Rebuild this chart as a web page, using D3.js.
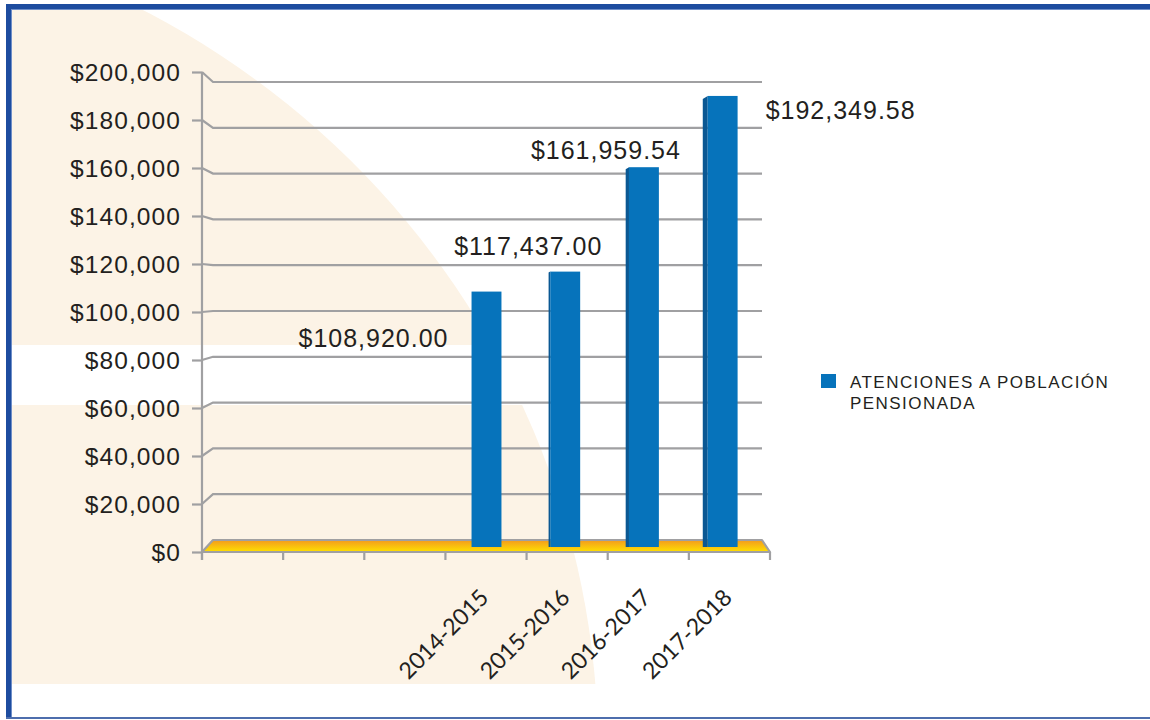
<!DOCTYPE html>
<html>
<head>
<meta charset="utf-8">
<script src="https://cdn.jsdelivr.net/npm/d3@7"></script>
<style>
  html, body { margin: 0; padding: 0; background: #ffffff; }
  svg { display: block; }
</style>
</head>
<body>
<svg id="chart" width="1150" height="720"></svg>
<script>
// ---------------- data ----------------
const categories = ["", "", "", "2014-2015", "2015-2016", "2016-2017", "2017-2018"];
const values = [null, null, null, 108920.00, 117437.00, 161959.54, 192349.58];
const yTickValues = [0, 20000, 40000, 60000, 80000, 100000, 120000, 140000, 160000, 180000, 200000];
const seriesName = ["ATENCIONES A POBLACIÓN", "PENSIONADA"];

// ---------------- setup ----------------
const svg = d3.select("#chart");
const W = 1150, H = 720;
const ink = "#231f20";
const gridGrey = "#a0a0a2";
const barBlue = "#0673bb";
const barSide = "#0a5893";
const cream = "#fcf3e6";
const frameBlue = "#1d4c9f";

svg.append("rect").attr("width", W).attr("height", H).attr("fill", "#ffffff");

// cream decorative background shape
const defs = svg.append("defs");
const clip = defs.append("clipPath").attr("id", "creamClip");
clip.append("rect").attr("x", 11).attr("y", 9).attr("width", W).attr("height", 336);
clip.append("rect").attr("x", 11).attr("y", 405).attr("width", W).attr("height", 279);
svg.append("ellipse")
  .attr("cx", -250).attr("cy", 750).attr("rx", 848).attr("ry", 835)
  .attr("fill", cream)
  .attr("clip-path", "url(#creamClip)");

// floor gradient
const grad = defs.append("linearGradient").attr("id", "floorGrad")
  .attr("x1", 0).attr("y1", 0).attr("x2", 0).attr("y2", 1);
grad.append("stop").attr("offset", "0%").attr("stop-color", "#f39a1f");
grad.append("stop").attr("offset", "100%").attr("stop-color", "#ffe100");

// ---------------- scales ----------------
const idx = d3.range(categories.length);
const yFront = d3.scaleLinear().domain([0, 200000]).range([552, 72]);
const yBack = d3.scaleLinear().domain([0, 200000]).range([540, 82]);
const yBar = d3.scaleLinear().domain([0, 200000]).range([547, 78]);
const xFront = d3.scaleBand().domain(idx).range([202, 770]).padding(0);
const xBack = d3.scaleBand().domain(idx).range([211, 762]).paddingInner(0.62).paddingOuter(0.31);
const sideW = d3.scaleLinear().domain([470, 712]).range([0, 5]).clamp(true);

// ---------------- gridlines (perspective back wall) ----------------
const line = d3.line();
const gridG = svg.append("g");
yTickValues.forEach(v => {
  if (v === 0) return;
  gridG.append("path")
    .attr("d", line([[202, yFront(v)], [213, yBack(v)], [762, yBack(v)]]))
    .attr("fill", "none").attr("stroke", gridGrey).attr("stroke-width", 2.2);
});

// y axis
const yAxis = d3.axisLeft(yFront).tickValues(yTickValues).tickSize(10).tickFormat(d3.format("$,.0f"));
const yAxisG = svg.append("g").attr("transform", "translate(202,0)").call(yAxis);
yAxisG.select(".domain").attr("d", "M0,72V560").attr("stroke", gridGrey).attr("stroke-width", 2.2);
yAxisG.selectAll(".tick line").attr("stroke", gridGrey).attr("stroke-width", 2.2);
yAxisG.selectAll(".tick text")
  .attr("x", -21).attr("dy", "0.36em")
  .attr("fill", ink)
  .style("font-family", "'Liberation Sans', Arial, sans-serif")
  .style("font-size", "24.5px")
  .style("letter-spacing", "1.1px");

// floor (value 0 plane)
const floorPts = [[202, yFront(0)], [213, yBack(0)], [762, yBack(0)], [xFront.range()[1], yFront(0)]];
svg.append("path")
  .attr("d", line(floorPts) + "Z")
  .attr("fill", "url(#floorGrad)")
  .attr("stroke", gridGrey).attr("stroke-width", 2.2).attr("stroke-linejoin", "round");

// ---------------- bars ----------------
const barData = idx.filter(i => values[i] != null).map(i => ({ i, v: values[i] }));
const barG = svg.append("g");
barData.forEach(d => {
  const x0 = xBack(d.i);
  const bw = xBack.bandwidth();
  const top = yBar(d.v);
  const bottom = yBar(0);
  const s = sideW(x0);
  if (s > 0.5) {
    barG.append("path")
      .attr("d", line([[x0 - s, top + s * 0.6], [x0, top], [x0, bottom], [x0 - s, bottom]]) + "Z")
      .attr("fill", barSide);
  }
  barG.append("rect")
    .attr("x", x0).attr("y", top)
    .attr("width", bw).attr("height", bottom - top)
    .attr("fill", barBlue);
});

// x axis (front edge) with ticks at category boundaries
const xAxisG = svg.append("g");
xAxisG.append("path")
  .attr("d", line([[202, yFront(0)], [xFront.range()[1], yFront(0)]]))
  .attr("stroke", gridGrey).attr("stroke-width", 2.2);
idx.concat([categories.length]).forEach(k => {
  const x = k < categories.length ? xFront(k) : xFront.range()[1];
  xAxisG.append("line")
    .attr("x1", x).attr("x2", x).attr("y1", yFront(0)).attr("y2", yFront(0) + 8)
    .attr("stroke", gridGrey).attr("stroke-width", 2.2);
});

// category labels (rotated)
idx.forEach(i => {
  if (!categories[i]) return;
  const cx = xFront(i) + xFront.bandwidth() / 2 + 4;
  svg.append("text")
    .attr("transform", `translate(${cx},599) rotate(-45)`)
    .attr("text-anchor", "end")
    .attr("fill", ink)
    .style("font-family", "Lato, 'Open Sans', sans-serif")
    .style("font-size", "23px")
    .text(categories[i]);
});

// data labels (positions relative to each bar top, as in the original 3D layout)
const labelShift = [null, null, null, [-113, 55], [-37, -17], [-38, -8], [118, 23]];
const fmt = d3.format("$,.2f");
barData.forEach(d => {
  const cx = xBack(d.i) + xBack.bandwidth() / 2;
  const [dx, dy] = labelShift[d.i];
  svg.append("text")
    .attr("x", cx + dx).attr("y", yBar(d.v) + dy)
    .attr("text-anchor", "middle")
    .attr("fill", ink)
    .style("font-family", "'Liberation Sans', Arial, sans-serif")
    .style("font-size", "25px")
    .style("letter-spacing", "1px")
    .text(fmt(d.v));
});

// ---------------- legend ----------------
const lg = svg.append("g").attr("transform", "translate(821,374)");
lg.append("rect").attr("width", 15).attr("height", 14).attr("fill", barBlue);
seriesName.forEach((t, k) => {
  lg.append("text")
    .attr("x", 29).attr("y", 14 + k * 21)
    .attr("fill", ink)
    .style("font-family", "'Liberation Sans', Arial, sans-serif")
    .style("font-size", "17px")
    .style("letter-spacing", "1.45px")
    .text(t);
});

// ---------------- frame ----------------
svg.append("rect").attr("x", 6).attr("y", 4).attr("width", W - 6).attr("height", 5).attr("fill", frameBlue);
svg.append("rect").attr("x", 6).attr("y", 9).attr("width", W - 6).attr("height", 1).attr("fill", "#6f8ec8");
svg.append("rect").attr("x", 6).attr("y", 4).attr("width", 5).attr("height", 715).attr("fill", frameBlue);
svg.append("rect").attr("x", 11).attr("y", 9).attr("width", 1).attr("height", 709).attr("fill", "#6f8ec8");
svg.append("rect").attr("x", 6).attr("y", 717).attr("width", W - 6).attr("height", 2).attr("fill", "#4d6ead");
</script>
</body>
</html>
